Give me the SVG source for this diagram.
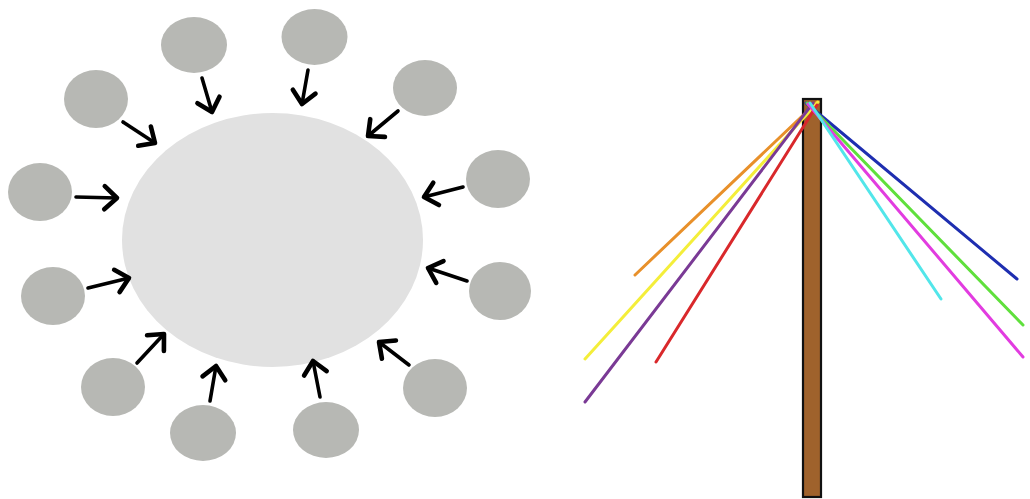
<svg xmlns="http://www.w3.org/2000/svg" width="1030" height="499" viewBox="0 0 1030 499">
<style>
.small{fill:#b7b8b4}
.big{fill:#e1e1e1}
.arr{stroke:#000;stroke-width:3.6;fill:none;stroke-linecap:round;marker-end:url(#head)}
.rib{stroke-width:3;fill:none;stroke-linecap:round}
</style>
<defs>
<marker id="head" markerUnits="userSpaceOnUse" viewBox="-16 -14 20 28" refX="0" refY="0" markerWidth="20" markerHeight="28" orient="auto" overflow="visible">
<path d="M-12.5,-11.5 L0,0 L-12.5,11.5" fill="none" stroke="#000" stroke-width="4.6" stroke-linecap="round" stroke-linejoin="round"/>
</marker>
</defs>
<rect width="1030" height="499" fill="#fff"/>
<g id="center"><ellipse class="big" cx="272.5" cy="240" rx="150.5" ry="127"/></g>
<g id="n1"><ellipse class="small" cx="194" cy="45" rx="33" ry="28"/></g>
<g id="n2"><ellipse class="small" cx="314.5" cy="37" rx="33" ry="28"/></g>
<g id="n3"><ellipse class="small" cx="96" cy="99" rx="32" ry="29"/></g>
<g id="n4"><ellipse class="small" cx="425" cy="88" rx="32" ry="28"/></g>
<g id="n5"><ellipse class="small" cx="40" cy="192" rx="32" ry="29"/></g>
<g id="n6"><ellipse class="small" cx="498" cy="179" rx="32" ry="29"/></g>
<g id="n7"><ellipse class="small" cx="53" cy="296" rx="32" ry="29"/></g>
<g id="n8"><ellipse class="small" cx="500" cy="291" rx="31" ry="29"/></g>
<g id="n9"><ellipse class="small" cx="113" cy="387" rx="32" ry="29"/></g>
<g id="n10"><ellipse class="small" cx="435" cy="388" rx="32" ry="29"/></g>
<g id="n11"><ellipse class="small" cx="203" cy="433" rx="33" ry="28"/></g>
<g id="n12"><ellipse class="small" cx="326" cy="430" rx="33" ry="28"/></g>
<g id="connectors">
<line class="arr" x1="123" y1="122" x2="155" y2="143"/>
<line class="arr" x1="202" y1="78" x2="212" y2="112"/>
<line class="arr" x1="76" y1="197" x2="117" y2="198"/>
<line class="arr" x1="308" y1="70" x2="302" y2="104"/>
<line class="arr" x1="398" y1="111" x2="368" y2="136"/>
<line class="arr" x1="463" y1="187" x2="424" y2="197"/>
<line class="arr" x1="88" y1="288" x2="129" y2="278"/>
<line class="arr" x1="137" y1="363" x2="164" y2="334"/>
<line class="arr" x1="210" y1="401" x2="216" y2="366"/>
<line class="arr" x1="467" y1="281" x2="428" y2="268"/>
<line class="arr" x1="409" y1="365" x2="379" y2="342"/>
<line class="arr" x1="320" y1="397" x2="313" y2="361"/>
</g>
<g id="pole">
<rect x="803" y="99" width="18" height="398" fill="#9f622c" stroke="#111" stroke-width="2.2"/>
</g>
<g id="ribbons">
<line class="rib" stroke="#e8902a" x1="817" y1="102" x2="635" y2="275"/>
<line class="rib" stroke="#f4ee3a" x1="818" y1="102" x2="585" y2="359"/>
<line class="rib" stroke="#7a3a95" x1="813" y1="103" x2="585" y2="402"/>
<line class="rib" stroke="#d9282b" x1="817" y1="105" x2="656" y2="362"/>
<line class="rib" stroke="#1e2eb0" stroke-width="3.4" x1="806" y1="103" x2="1017" y2="279"/>
<line class="rib" stroke="#5fe03c" x1="807" y1="103" x2="1023" y2="325"/>
<line class="rib" stroke="#e23ce0" x1="808" y1="104" x2="1023" y2="357"/>
<line class="rib" stroke="#52e6ea" x1="810" y1="103" x2="941" y2="299"/>
</g>
</svg>
